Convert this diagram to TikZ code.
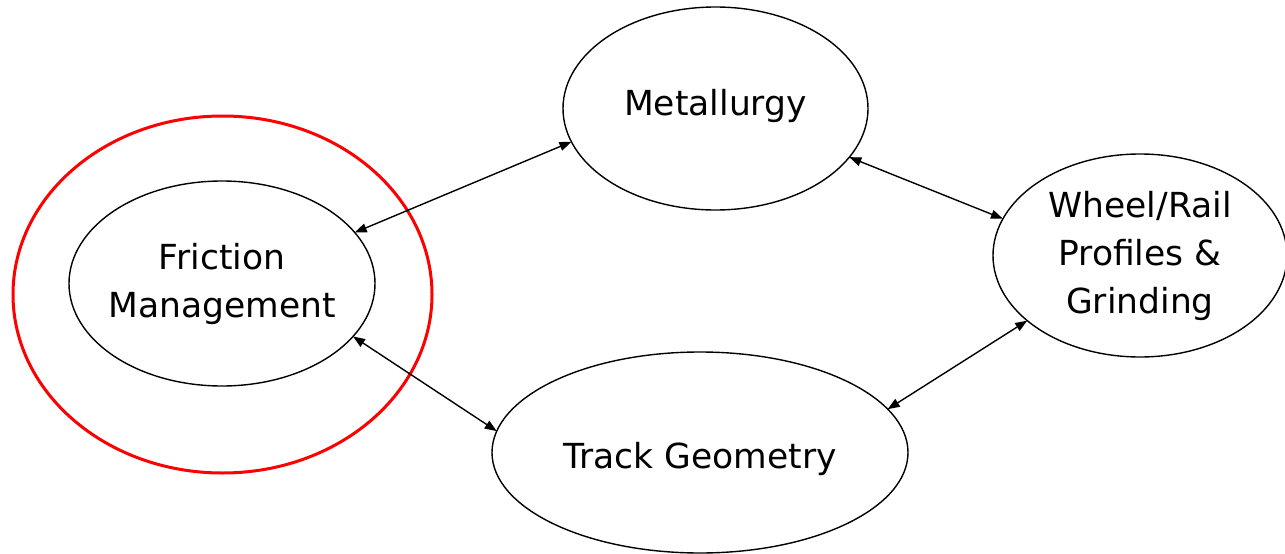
\documentclass[tikz,border=0pt]{standalone}
\usepackage{fontspec}
\setmainfont{DejaVu Sans}
\usetikzlibrary{shapes.geometric,arrows.meta}

\tikzset{
  topic/.style={draw=black,line width=1.4pt,ellipse,inner sep=-8pt,outer sep=0pt,
    align=center,font=\fontsize{34.5}{48}\selectfont},
  link/.style={line width=1.4pt,{Triangle[length=12pt,width=9pt]}-{Triangle[length=12pt,width=9pt]}}
}

\begin{document}
\begin{tikzpicture}[x=1pt,y=-1pt]
\useasboundingbox (0,0) rectangle (1285,554);
% topics:
\node[topic,minimum width=306pt,minimum height=205pt] (fric) at (222,283.5) {Friction\\Management};
\node[topic,minimum width=305pt,minimum height=203pt,text height=25.5pt,text depth=12.5pt] (metal) at (715.5,108.5) {Metallurgy};
\node[topic,minimum width=294pt,minimum height=203pt] (wheel) at (1140,255.5) {Wheel/Rail\\Profiles \&\\Grinding};
\node[topic,minimum width=416pt,minimum height=201pt,text height=36pt,text depth=5pt] (track) at (700,452.5) {Track Geometry};
% highlight:
\node[draw=red,line width=3pt,ellipse,inner sep=0pt,minimum width=419pt,minimum height=357pt] (focus) at (222.5,294.5) {};
% links:
\draw[link] (fric.21.6) -- (metal.193.3);
\draw[link] (metal.340) -- (wheel.165.3);
\draw[link] (fric.338.4) -- (track.174.6);
\draw[link] (wheel.210) -- (track.13.5);
\end{tikzpicture}
\end{document}
